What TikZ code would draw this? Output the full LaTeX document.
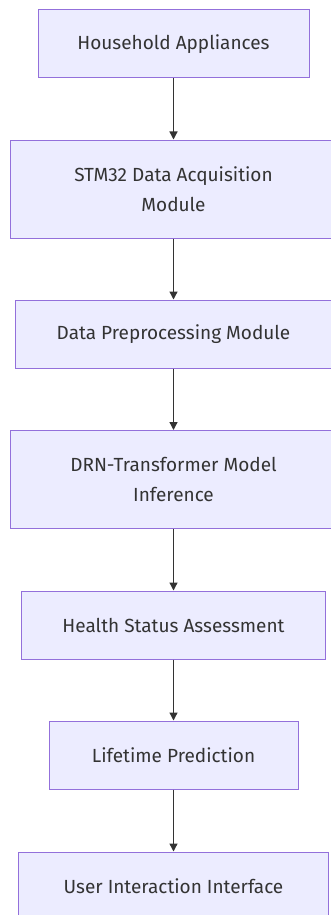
\documentclass[tikz,border=0pt]{standalone}
\usepackage{fontspec}
\setmainfont{Fira Sans}
\usetikzlibrary{arrows.meta}

\definecolor{boxfill}{HTML}{ECECFF}
\definecolor{boxline}{HTML}{9370DB}
\definecolor{ink}{HTML}{333333}

\begin{document}
\begin{tikzpicture}[
  x=1pt,y=-1pt,
  >={Triangle[length=8pt,width=8pt]},
  font=\fontsize{19}{30}\selectfont,
  stage/.style={draw=boxline,fill=boxfill,line width=1pt,text=ink,align=center,minimum height=68pt},
  tallstage/.style={stage,minimum height=98pt},
  flow/.style={->,draw=ink,line width=1.3pt}
]
\useasboundingbox (0,0) rectangle (330,915);

% Processing chain, top to bottom.
\node[stage,minimum width=271pt] (appl) at (173.5,44) {Household Appliances};
\node[tallstage,minimum width=327pt] (acq) at (173.5,189) {STM32 Data Acquisition\\Module};
\node[stage,minimum width=317pt] (prep) at (173.5,334) {Data Preprocessing Module};
\node[tallstage,minimum width=327pt] (infer) at (173.5,479.5) {DRN-Transformer Model\\Inference};
\node[stage,minimum width=304pt] (health) at (173.5,625) {Health Status Assessment};
\node[stage,minimum width=249pt] (life) at (173.5,755) {Lifetime Prediction};
\node[stage,minimum width=310pt] (ui) at (173.5,886) {User Interaction Interface};

% Connectors.
\draw[flow] (appl) -- (acq);
\draw[flow] (acq) -- (prep);
\draw[flow] (prep) -- (infer);
\draw[flow] (infer) -- (health);
\draw[flow] (health) -- (life);
\draw[flow] (life) -- (ui);
\end{tikzpicture}
\end{document}
